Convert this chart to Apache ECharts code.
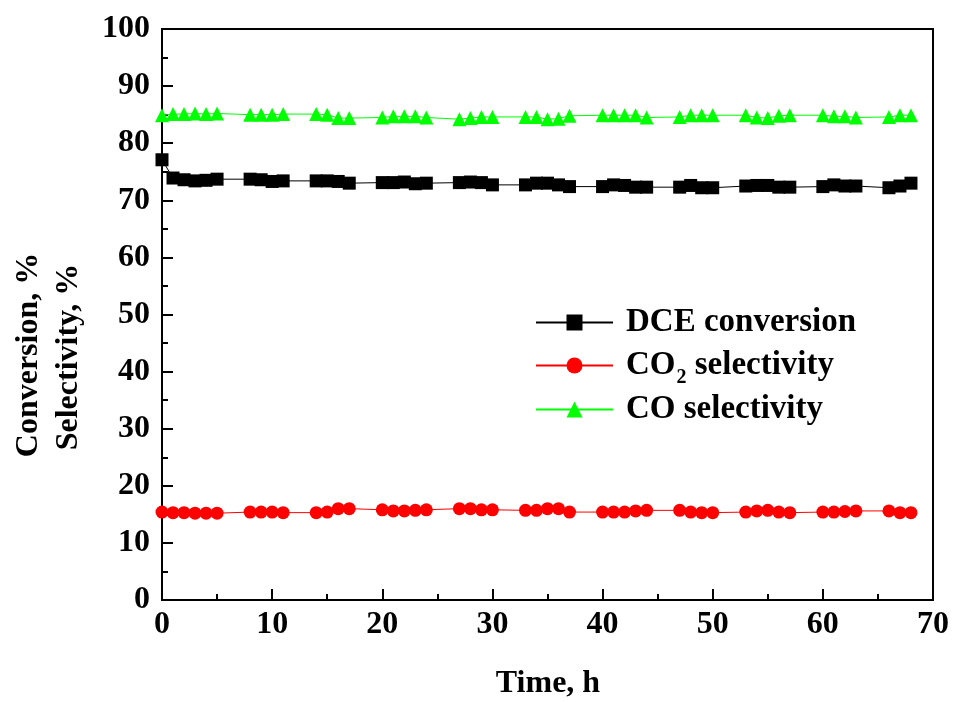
<!DOCTYPE html>
<html>
<head>
<meta charset="utf-8">
<script src="https://cdn.jsdelivr.net/npm/echarts@6/dist/echarts.min.js"></script>
<style>html,body{margin:0;padding:0;background:#fff}#c{width:955px;height:702px}</style>
</head>
<body>
<div id="c"></div>
<script>
var times = [0,1,2,3,4,5, 8,9,10,11, 14,15,16,17, 20,21,22,23,24, 27,28,29,30, 33,34,35,36,37, 40,41,42,43,44, 47,48,49,50, 53,54,55,56,57, 60,61,62,63, 66,67,68];
var dceConversion = [77.1,73.9,73.6,73.4,73.5,73.7, 73.7,73.6,73.3,73.4, 73.4,73.4,73.3,73.0, 73.1,73.1,73.2,72.9,73.0, 73.1,73.2,73.1,72.7, 72.7,73.0,73.0,72.7,72.4, 72.4,72.7,72.6,72.3,72.3, 72.3,72.6,72.2,72.2, 72.5,72.6,72.6,72.3,72.3, 72.4,72.7,72.5,72.5, 72.2,72.5,73.0];
var co2Selectivity = [15.4,15.3,15.3,15.2,15.2,15.2, 15.4,15.4,15.4,15.3, 15.3,15.4,16.0,16.0, 15.8,15.6,15.6,15.7,15.8, 16.0,16.0,15.8,15.8, 15.7,15.7,16.0,16.0,15.4, 15.4,15.4,15.4,15.6,15.7, 15.7,15.4,15.3,15.3, 15.4,15.6,15.7,15.4,15.3, 15.4,15.4,15.5,15.6, 15.6,15.3,15.3];
var coSelectivity = [84.9,85.1,85.1,85.2,85.1,85.2, 85.0,85.0,85.0,85.1, 85.1,85.0,84.4,84.4, 84.5,84.7,84.7,84.7,84.5, 84.2,84.4,84.6,84.6, 84.6,84.6,84.2,84.3,84.8, 84.9,84.9,84.9,84.9,84.5, 84.6,84.9,84.9,84.9, 84.9,84.5,84.4,84.8,84.9, 84.9,84.7,84.7,84.5, 84.6,84.9,84.9];
var xTicks = [0,10,20,30,40,50,60,70];
var yTicks = [0,10,20,30,40,50,60,70,80,90,100];
var seriesNames = ['DCE conversion','CO2 selectivity','CO selectivity'];
var yTitle1 = 'Conversion, %';
var yTitle2 = 'Selectivity, %';
var xTitle = 'Time, h';

function pairs(ys){ return times.map(function(t,i){ return [t, ys[i]]; }); }
var FONT = '"Liberation Serif", "Times New Roman", serif';
var chart = echarts.init(document.getElementById('c'), null, {renderer:'canvas'});
var axisCommon = {
  axisLine:{show:true, onZero:false, lineStyle:{color:'#000', width:2}},
  axisTick:{show:true, inside:true, length:11, lineStyle:{color:'#000', width:2}},
  minorTick:{show:true, splitNumber:2, length:6, lineStyle:{color:'#000', width:2}},
  splitLine:{show:false},
  axisLabel:{color:'#000', fontFamily:FONT, fontWeight:'bold', fontSize:32}
};
chart.setOption({
  animation:false,
  backgroundColor:'#fff',
  grid:{left:162, right:22, top:29, bottom:102, show:true, borderColor:'#000', borderWidth:2, backgroundColor:'transparent'},
  xAxis:Object.assign({}, axisCommon, {type:'value', min:0, max:70, interval:10,
    axisLabel:Object.assign({}, axisCommon.axisLabel, {margin:9})}),
  yAxis:Object.assign({}, axisCommon, {type:'value', min:0, max:100, interval:10,
    axisLabel:Object.assign({}, axisCommon.axisLabel, {margin:12})}),
  legend:{
    left:530, top:296, orient:'vertical', itemWidth:77, itemHeight:20, itemGap:0,
    data:seriesNames,
    formatter:function(n){ return n === 'CO2 selectivity' ? 'CO{sub|2} selectivity' : n; },
    textStyle:{color:'#000', fontFamily:FONT, fontWeight:'bold', fontSize:33, lineHeight:43, padding:[0,0,0,8],
      rich:{sub:{fontFamily:FONT, fontWeight:'bold', fontSize:20, lineHeight:19, verticalAlign:'top', padding:[24,0,0,1]}}}
  },
  graphic:[
    {type:'text', x:29, y:355, rotation:Math.PI/2, style:{text:yTitle1, fill:'#000', font:'bold 32px ' + FONT, textAlign:'center', textVerticalAlign:'middle'}},
    {type:'text', x:69, y:357, rotation:Math.PI/2, style:{text:yTitle2, fill:'#000', font:'bold 32px ' + FONT, textAlign:'center', textVerticalAlign:'middle'}},
    {type:'text', x:548, y:684, style:{text:xTitle, fill:'#000', font:'bold 32px ' + FONT, textAlign:'center', textVerticalAlign:'middle'}}
  ],
  series:[
    {name:seriesNames[0], type:'line', data:pairs(dceConversion), symbol:'rect', symbolSize:13,
      itemStyle:{color:'#000'}, lineStyle:{color:'#000', width:1}},
    {name:seriesNames[1], type:'line', data:pairs(co2Selectivity), symbol:'circle', symbolSize:13,
      itemStyle:{color:'#ff0000'}, lineStyle:{color:'#ff0000', width:1}},
    {name:seriesNames[2], type:'line', data:pairs(coSelectivity), symbol:'triangle', symbolSize:14,
      itemStyle:{color:'#00ff00'}, lineStyle:{color:'#00ff00', width:1}}
  ]
});
</script>
</body>
</html>
